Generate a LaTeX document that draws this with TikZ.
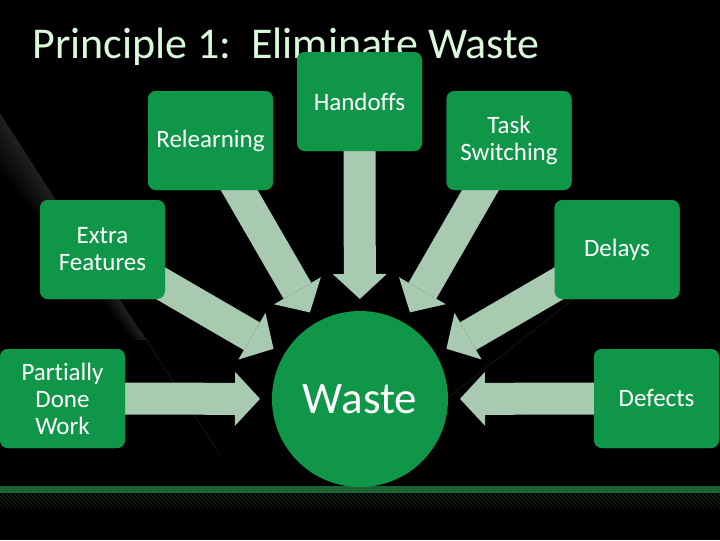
\documentclass[tikz,border=0pt]{standalone}
\usepackage{fontspec}
\setmainfont{Carlito}[Ligatures=NoCommon]
\usetikzlibrary{calc,arrows.meta,patterns}
\definecolor{boxgreen}{RGB}{16,150,72}
\definecolor{arrowgreen}{RGB}{168,202,176}
\definecolor{titlegreen}{RGB}{218,248,218}
\definecolor{bandgreen}{RGB}{28,100,52}
\definecolor{hatchgreenA}{RGB}{20,66,34}
\definecolor{hatchgreenB}{RGB}{12,40,20}
\begin{document}
\begin{tikzpicture}[x=0.75pt,y=-0.75pt,
  wbox/.style={rectangle, rounded corners=6pt, fill=boxgreen, minimum width=93.75pt,
    minimum height=74.25pt, text=white, font=\fontsize{18.75pt}{20.25pt}\selectfont,
    align=center, inner sep=0pt},
  flow/.style={arrowgreen, line width=24pt,
    -{Triangle[width=40.5pt,length=18.75pt,line width=0pt]}}
]
\useasboundingbox (0,0) rectangle (720,540);
\fill[black] (0,0) rectangle (720,540);
% background sheen
\foreach \k in {3,6,...,45}
  \fill[white,opacity=0.01] (0,113) -- (146,340) -- ({146-0.3*\k},340) -- (-\k,113) -- cycle;
\draw[white,opacity=0.05,line width=1.2pt] (140,330) -- (220,455);
\draw[white,opacity=0.05,line width=1.2pt] (585,290) -- (445,400);
% bottom band
\fill[bandgreen] (0,486) rectangle (720,493);
\fill[pattern=north west lines, pattern color=hatchgreenA] (0,493) rectangle (720,500);
\fill[pattern=north west lines, pattern color=hatchgreenB] (0,500) rectangle (720,507);
% title
\node[anchor=base west, text=titlegreen, font=\fontsize{33pt}{40pt}\selectfont, inner sep=0pt]
  (title) at (32,58) {Principle 1:\ \ Eliminate Waste};
% nodes
\coordinate (wc) at (360,399);
\node[wbox] (hand) at (359.5,101.5) {Handoffs};
\node[wbox] (relearn) at (210.5,140.5) {Relearning};
\node[wbox] (task) at (509,140.5) {Task\\Switching};
\node[wbox] (extra) at (102.5,249.5) {Extra\\Features};
\node[wbox] (delays) at (617,249.5) {Delays};
\node[wbox] (partial) at (62.5,398.5) {Partially\\Done\\Work};
\node[wbox] (defects) at (656.5,398.5) {Defects};
% arrows
\foreach \n in {hand,relearn,task,extra,delays,partial,defects}
  \draw[flow] (\n.center) -- ($(wc)!75pt!(\n.center)$);
% boxes on top of arrow tails
\node[wbox] at (hand) {Handoffs};
\node[wbox] at (relearn) {Relearning};
\node[wbox] at (task) {Task\\Switching};
\node[wbox] at (extra) {Extra\\Features};
\node[wbox] at (delays) {Delays};
\node[wbox] at (partial) {Partially\\Done\\Work};
\node[wbox] at (defects) {Defects};
\node[circle, fill=boxgreen, minimum size=132pt, inner sep=0pt, text=white,
  font=\fontsize{33.75pt}{40pt}\selectfont] (waste) at (wc) {Waste};
\end{tikzpicture}
\end{document}
